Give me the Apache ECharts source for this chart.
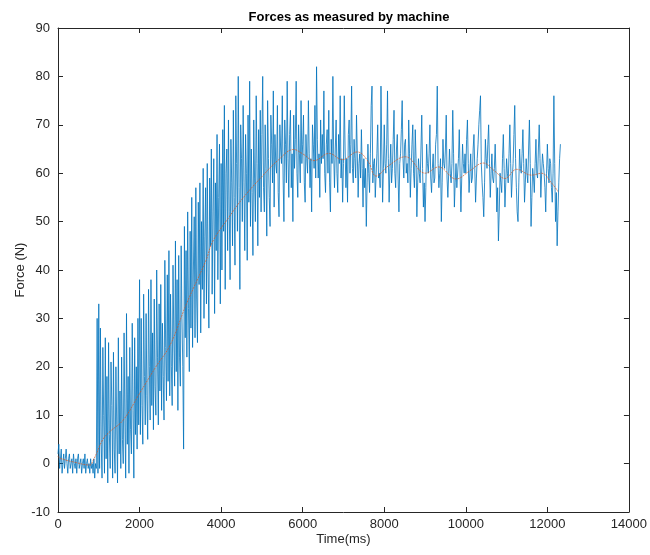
<!DOCTYPE html>
<html>
<head>
<meta charset="utf-8">
<script src="https://cdn.jsdelivr.net/npm/echarts@6/dist/echarts.min.js"></script>
<style>
html,body{margin:0;padding:0;background:#fff;}
#chart{width:650px;height:555px;}
</style>
</head>
<body>
<div id="chart"></div>
<script>
// Sampling step of the measured force signal (ms)
const SAMPLE_MS = 20;

// Measured force (N), one value per sample, starting at t = 0 ms
const force = [
  // 0 - 980 ms
  2, 4, -1, 1, 3, -2, 0, 2, -1, 1,
  3, 0, -2, 1, 2, -1, 0, 1, -2, 2,
  0, -1, 1, -2, 1, 2, -1, 0, 1, -2,
  0, 1, -1, 2, -2, 0, 1, -1, 0, -2,
  1, -1, 0, -2, 1, -3, 0, -1, 30, -2,
  // 1000 - 1980 ms
  33, -1, 28, 4, -3, 24, 10, -2, 26, 1,
  18, -4, 25, 6, -1, 21, 12, -3, 23, 3,
  -2, 20, 8, -4, 26, 2, 15, -1, 22, 5,
  0, 27, 9, -3, 31, 4, 18, -2, 24, 7,
  2, 29, 11, -3, 26, 6, 20, 3, 30, 8,
  // 2000 - 2980 ms
  38, 6, 30, 12, 4, 35, 18, 8, 31, 14,
  5, 36, 20, 9, 38, 12, 27, 7, 34, 16,
  10, 40, 22, 8, 33, 15, 37, 11, 29, 18,
  9, 42, 24, 13, 39, 17, 44, 14, 35, 20,
  12, 41, 26, 16, 46, 19, 38, 11, 43, 22,
  // 3000 - 3980 ms
  16, 45, 30, 20, 3, 49, 26, 44, 22, 52,
  32, 19, 48, 28, 55, 24, 40, 51, 26, 57,
  34, 25, 54, 37, 58, 27, 50, 36, 61, 30,
  47, 57, 33, 62, 40, 28, 59, 45, 65, 35,
  52, 63, 31, 58, 44, 68, 38, 55, 66, 33,
  // 4000 - 4980 ms
  62, 40, 69, 48, 74, 36, 60, 65, 44, 71,
  52, 38, 67, 58, 45, 73, 55, 41, 76, 62,
  48, 80, 57, 36, 70, 63, 50, 74, 58, 44,
  68, 60, 42, 72, 54, 79, 49, 65, 56, 43,
  71, 59, 50, 76, 62, 45, 69, 55, 73, 52,
  // 5000 - 5980 ms
  68, 80, 57, 52, 70, 61, 47, 75, 63, 55,
  49, 72, 66, 58, 77, 53, 68, 62, 60, 74,
  56, 51, 70, 65, 62, 76, 59, 50, 71, 66,
  58, 79, 63, 55, 68, 73, 57, 64, 50, 72,
  61, 67, 79, 60, 55, 70, 64, 58, 75, 62,
  // 6000 - 6980 ms
  66, 72, 58, 54, 68, 63, 60, 75, 64, 57,
  63, 52, 70, 66, 61, 74, 59, 82, 67, 59,
  64, 55, 71, 62, 68, 63, 77, 60, 56, 66,
  69, 60, 73, 58, 52, 67, 62, 80, 64, 57,
  65, 71, 60, 56, 68, 62, 76, 59, 63, 54,
  // 7000 - 7980 ms
  62, 76, 65, 57, 63, 54, 68, 71, 60, 66,
  78, 61, 58, 67, 63, 59, 72, 64, 55, 62,
  64, 59, 69, 61, 53, 63, 57, 61, 49, 58,
  66, 60, 56, 64, 74, 78, 58, 62, 63, 55,
  55, 64, 70, 59, 60, 57, 78, 65, 54, 61,
  // 8000 - 8980 ms
  70, 62, 60, 66, 77, 63, 54, 61, 66, 58,
  61, 67, 73, 60, 57, 65, 68, 59, 52, 62,
  64, 69, 75, 63, 59, 66, 67, 60, 62, 58,
  71, 64, 55, 61, 66, 70, 60, 57, 69, 63,
  51, 58, 63, 60, 58, 65, 72, 61, 53, 58,
  // 9000 - 9980 ms
  50, 57, 66, 62, 60, 64, 70, 59, 56, 61,
  64, 58, 59, 66, 68, 78, 62, 57, 60, 63,
  50, 58, 67, 62, 61, 65, 72, 59, 55, 60,
  65, 60, 58, 62, 73, 64, 53, 58, 62, 57,
  57, 63, 69, 60, 52, 59, 66, 62, 60, 64,
  // 10000 - 10980 ms
  60, 67, 71, 62, 56, 60, 64, 58, 59, 65,
  68, 61, 54, 59, 63, 66, 70, 73, 76, 62,
  58, 55, 51, 58, 67, 63, 61, 66, 70, 62,
  55, 60, 64, 59, 58, 61, 66, 60, 52, 57,
  46, 52, 60, 58, 56, 63, 68, 61, 53, 58,
  // 11000 - 11980 ms
  63, 60, 58, 64, 70, 62, 55, 59, 62, 68,
  74, 63, 57, 52, 50, 58, 65, 61, 60, 64,
  69, 62, 54, 58, 63, 60, 58, 65, 71, 62,
  49, 55, 61, 59, 56, 62, 67, 60, 59, 65,
  70, 63, 55, 60, 64, 62, 60, 57, 52, 60,
  // 12000 - 12320 ms
  66, 61, 58, 63, 62, 57, 54, 60, 76, 62,
  50, 56, 45, 52, 58, 63, 66
];

// Smoothed trend (red)
const trendTime = [0, 50, 400, 780, 863, 945, 1100, 1270, 1600, 2000, 2400, 2750, 3150, 3630, 3800, 4200, 4500, 5000, 5400, 5780, 6000, 6280, 6645, 6971, 7338, 7600, 7800, 8100, 8518, 9007, 9332, 9760, 10100, 10430, 10700, 10960, 11245, 11612, 11856, 12100, 12264];
const trendForce = [1.5, 1.1, 0.3, -0.3, 0.7, 2.1, 5, 6.6, 9, 14.5, 20, 24.5, 33, 42, 46, 51, 54.5, 59.3, 62.7, 64.9, 64, 62.6, 64.1, 62.8, 64.4, 62.5, 59.4, 61.5, 63.4, 60, 61.3, 58.8, 60.5, 62.1, 60.5, 58.9, 60.8, 59.6, 60, 58, 56.2];

// Axis ticks
const xTicks = { min: 0, max: 14000, step: 2000 };
const yTicks = { min: -10, max: 90, step: 10 };

const forceData = force.map((v, i) => [i * SAMPLE_MS, v]);
const trendData = trendTime.map((t, i) => [t, trendForce[i]]);

const axisColor = '#262626';
const font = 'Arial, "Liberation Sans", Helvetica, sans-serif';

function xAxisDef(pos, labels) {
  return {
    type: 'value', position: pos, min: xTicks.min, max: xTicks.max, interval: xTicks.step,
    name: labels ? 'Time(ms)' : '', nameLocation: 'middle', nameGap: 21, nameMoveOverlap: false,
    nameTextStyle: { color: axisColor, fontSize: 13, fontFamily: font },
    axisLine: { show: true, onZero: false, lineStyle: { color: axisColor, width: 1 } },
    axisTick: { show: true, inside: true, length: 5, lineStyle: { color: axisColor } },
    axisLabel: { show: labels, color: axisColor, fontSize: 13, fontFamily: font, margin: 6,
                 formatter: v => String(v) },
    splitLine: { show: false }
  };
}
function yAxisDef(pos, labels) {
  return {
    type: 'value', position: pos, min: yTicks.min, max: yTicks.max, interval: yTicks.step,
    name: labels ? 'Force (N)' : '', nameLocation: 'middle', nameGap: 31, nameMoveOverlap: false,
    nameTextStyle: { color: axisColor, fontSize: 13, fontFamily: font },
    axisLine: { show: true, onZero: false, lineStyle: { color: axisColor, width: 1 } },
    axisTick: { show: true, inside: true, length: 5, lineStyle: { color: axisColor } },
    axisLabel: { show: labels, color: axisColor, fontSize: 13, fontFamily: font, margin: 8,
                 formatter: v => String(v) },
    splitLine: { show: false }
  };
}

const chart = echarts.init(document.getElementById('chart'), null, { renderer: 'canvas' });
chart.setOption({
  animation: false,
  backgroundColor: '#ffffff',
  title: {
    text: 'Forces as measured by machine',
    left: 344, top: 6, textAlign: 'center',
    textStyle: { color: '#000', fontSize: 13, fontWeight: 'bold', fontFamily: font }
  },
  grid: { left: 58, right: 19, top: 28, bottom: 43, containLabel: false },
  xAxis: [xAxisDef('bottom', true), xAxisDef('top', false)],
  yAxis: [yAxisDef('left', true), yAxisDef('right', false)],
  series: [
    {
      type: 'line', data: forceData, xAxisIndex: 0, yAxisIndex: 0,
      showSymbol: false, symbol: 'none',
      lineStyle: { color: '#0072BD', width: 0.8 }, z: 2
    },
    {
      type: 'line', data: trendData, xAxisIndex: 0, yAxisIndex: 0,
      showSymbol: false, symbol: 'none', smooth: 0.4,
      lineStyle: { color: '#D95319', width: 1, type: [2, 1], opacity: 0.7 }, z: 3
    }
  ]
});
</script>
</body>
</html>
